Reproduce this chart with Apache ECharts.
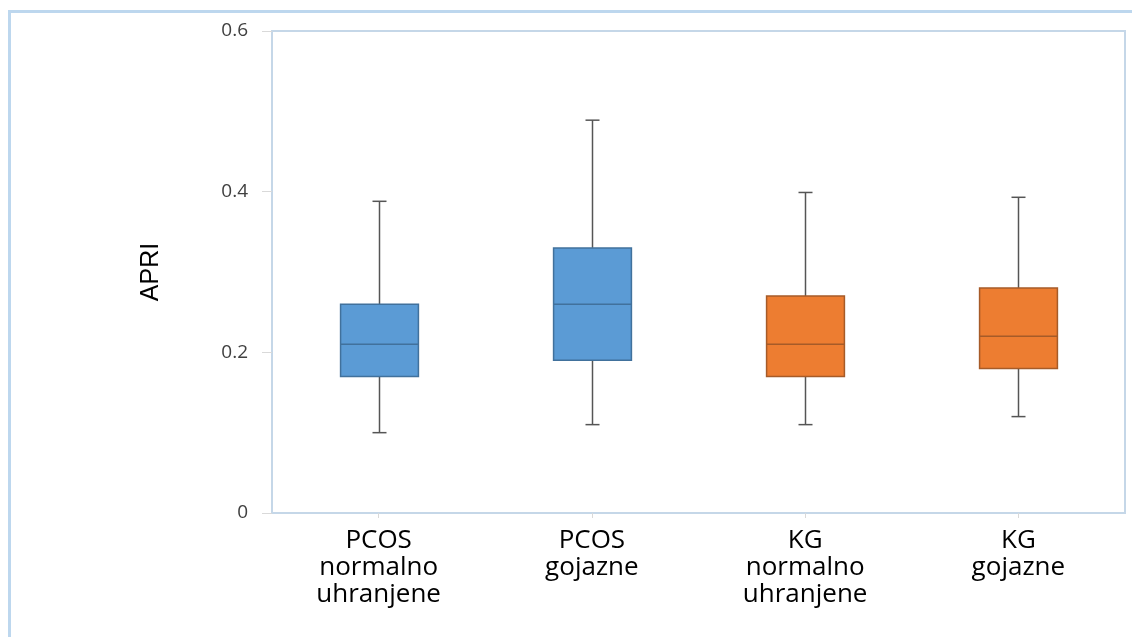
<!DOCTYPE html>
<html>
<head>
<meta charset="utf-8">
<script src="https://cdn.jsdelivr.net/npm/echarts@6/dist/echarts.min.js"></script>
<style>
  html, body { margin: 0; padding: 0; background: #ffffff; }
  #chart { width: 1132px; height: 637px; }
</style>
</head>
<body>
<div id="chart"></div>
<script>
// APRI by group: five-number summary per box
const categories = ['PCOS\nnormalno\nuhranjene', 'PCOS\ngojazne', 'KG\nnormalno\nuhranjene', 'KG\ngojazne'];
const minVals    = [0.100, 0.110, 0.110, 0.120];
const q1Vals     = [0.170, 0.190, 0.170, 0.180];
const medianVals = [0.210, 0.260, 0.210, 0.220];
const q3Vals     = [0.260, 0.330, 0.270, 0.280];
const maxVals    = [0.388, 0.489, 0.399, 0.393];
const yTicks     = [0, 0.2, 0.4, 0.6];

// fill / outline per group (PCOS blue, KG orange)
const fills   = ['#5b9bd5', '#5b9bd5', '#ed7d31', '#ed7d31'];
const strokes = ['#41719c', '#41719c', '#a65b28', '#a65b28'];

const boxData = categories.map((c, i) => [i, minVals[i], q1Vals[i], medianVals[i], q3Vals[i], maxVals[i]]);

function renderBox(params, api) {
  const i = api.value(0);
  const band = api.size([1, 0])[0];
  const boxW = band * 0.365;
  const capW = 14;
  const pMin = api.coord([i, api.value(1)]);
  const pQ1  = api.coord([i, api.value(2)]);
  const pMed = api.coord([i, api.value(3)]);
  const pQ3  = api.coord([i, api.value(4)]);
  const pMax = api.coord([i, api.value(5)]);
  const cx = Math.round(pMed[0]) + 0.5;
  const whisker = { stroke: '#555555', lineWidth: 1.5 };
  return {
    type: 'group',
    children: [
      { type: 'line', shape: { x1: cx, y1: pMax[1], x2: cx, y2: pQ3[1] }, style: whisker },
      { type: 'line', shape: { x1: cx, y1: pQ1[1], x2: cx, y2: pMin[1] }, style: whisker },
      { type: 'line', shape: { x1: cx - capW / 2, y1: pMax[1], x2: cx + capW / 2, y2: pMax[1] }, style: whisker },
      { type: 'line', shape: { x1: cx - capW / 2, y1: pMin[1], x2: cx + capW / 2, y2: pMin[1] }, style: whisker },
      { type: 'rect', shape: { x: cx - boxW / 2, y: pQ3[1], width: boxW, height: pQ1[1] - pQ3[1] },
        style: { fill: fills[i], stroke: strokes[i], lineWidth: 1.5 } },
      { type: 'line', shape: { x1: cx - boxW / 2, y1: pMed[1], x2: cx + boxW / 2, y2: pMed[1] },
        style: { stroke: strokes[i], lineWidth: 1.5 } }
    ]
  };
}

const chart = echarts.init(document.getElementById('chart'), null, { renderer: 'canvas' });
chart.setOption({
  animation: false,
  backgroundColor: '#ffffff',
  graphic: [
    { type: 'rect', shape: { x: 9.5, y: 11.5, width: 1300, height: 800 },
      style: { fill: 'none', stroke: '#bdd7ee', lineWidth: 3 }, silent: true, z: -1 }
  ],
  grid: {
    left: 272, right: 7, top: 31, bottom: 124,
    show: true, borderColor: '#c5d7e8', borderWidth: 2,
    containLabel: false, outerBoundsMode: 'none'
  },
  xAxis: {
    type: 'category',
    data: categories,
    axisLine: { show: true, lineStyle: { color: '#c5d7e8', width: 2 } },
    axisTick: { show: true, alignWithLabel: true, length: 5, lineStyle: { color: '#d9d9d9' } },
    axisLabel: {
      interval: 0, margin: 14,
      fontFamily: 'Open Sans', fontSize: 26, lineHeight: 27, color: '#000000'
    },
    splitLine: { show: false }
  },
  yAxis: {
    type: 'value',
    min: yTicks[0], max: yTicks[yTicks.length - 1], interval: 0.2,
    name: 'APRI',
    nameLocation: 'middle', nameRotate: 90, nameGap: 108,
    nameTextStyle: { fontFamily: 'Liberation Sans', fontSize: 25, color: '#000000' },
    axisLine: { show: true, lineStyle: { color: '#c5d7e8', width: 2 } },
    axisTick: { show: true, length: 10, lineStyle: { color: '#d9d9d9' } },
    axisLabel: {
      margin: 24, fontFamily: 'Open Sans', fontSize: 19, color: '#404040',
      formatter: v => String(+v.toFixed(1))
    },
    splitLine: { show: false }
  },
  series: [{
    type: 'custom',
    renderItem: renderBox,
    encode: { x: 0, y: [1, 2, 3, 4, 5] },
    data: boxData
  }]
});
</script>
</body>
</html>
